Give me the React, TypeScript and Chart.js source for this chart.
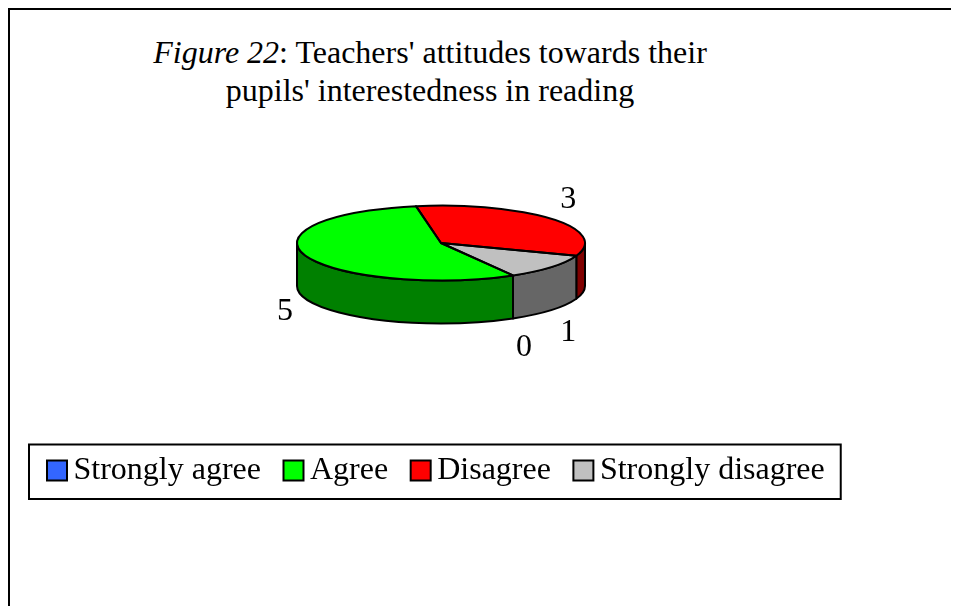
import React, { useEffect, useRef } from 'react';
import { Chart, registerables } from 'chart.js';

Chart.register(...registerables);

// ---- data ----
const categories = ['Strongly agree', 'Agree', 'Disagree', 'Strongly disagree'];
const responses = [0, 5, 3, 1];

// ---- styles ----
const topColors = ['#3366FF', '#00FF00', '#FF0000', '#C0C0C0'];
const sideColors = ['#1A3380', '#008000', '#800000', '#666666'];
const titleItalic = 'Figure 22';
const titleRest = ": Teachers' attitudes towards their";
const titleLine2 = "pupils' interestedness in reading";

const FONT = '"Liberation Serif", "Times New Roman", serif';
const TILT = 0.26;
const DEPTH = 43;

const pie3d = {
  id: 'pie3d',
  beforeDatasetsDraw(chart: any) {
    const ctx = chart.ctx;
    const meta = chart.getDatasetMeta(0);
    const first = meta.data[0];
    if (!first) return;
    const { x: cx, y: cy, outerRadius: r } = first.getProps(['x', 'y', 'outerRadius'], true);
    const ry = r * TILT;
    ctx.save();
    meta.data.forEach((arc: any, i: number) => {
      const { startAngle: s, endAngle: e } = arc.getProps(['startAngle', 'endAngle'], true);
      if (e - s <= 0) return;
      for (let n = -2; n <= 2; n++) {
        const lo = Math.max(s, 2 * Math.PI * n);
        const hi = Math.min(e, 2 * Math.PI * n + Math.PI);
        if (hi - lo > 1e-6) {
          ctx.beginPath();
          ctx.ellipse(cx, cy, r, ry, 0, lo, hi, false);
          ctx.lineTo(cx + r * Math.cos(hi), cy + ry * Math.sin(hi) + DEPTH);
          ctx.ellipse(cx, cy + DEPTH, r, ry, 0, hi, lo, true);
          ctx.closePath();
          ctx.fillStyle = sideColors[i];
          ctx.fill();
          ctx.lineWidth = 2;
          ctx.lineJoin = 'round';
          ctx.strokeStyle = '#000';
          ctx.stroke();
        }
      }
    });
    ctx.restore();
    ctx.save();
    ctx.translate(cx, cy);
    ctx.scale(1, TILT);
    ctx.translate(-cx, -cy);
  },
  afterDatasetsDraw(chart: any) {
    const ctx = chart.ctx;
    ctx.restore();
    const meta = chart.getDatasetMeta(0);
    const first = meta.data[0];
    if (!first) return;
    const { x: cx, y: cy, outerRadius: r } = first.getProps(['x', 'y', 'outerRadius'], true);
    const ry = r * TILT;
    ctx.save();
    ctx.lineWidth = 2;
    ctx.lineJoin = 'round';
    ctx.strokeStyle = '#000';
    meta.data.forEach((arc: any) => {
      const { startAngle: s, endAngle: e } = arc.getProps(['startAngle', 'endAngle'], true);
      if (e - s <= 0) return;
      ctx.beginPath();
      ctx.moveTo(cx, cy);
      ctx.lineTo(cx + r * Math.cos(s), cy + ry * Math.sin(s));
      ctx.ellipse(cx, cy, r, ry, 0, s, e, false);
      ctx.closePath();
      ctx.stroke();
    });
    // value labels
    const values = chart.data.datasets[0].data;
    ctx.fillStyle = '#000';
    ctx.font = `32px ${FONT}`;
    ctx.textAlign = 'center';
    ctx.textBaseline = 'middle';
    meta.data.forEach((arc: any, i: number) => {
      const { startAngle: s, endAngle: e } = arc.getProps(['startAngle', 'endAngle'], true);
      const m = (s + e) / 2;
      const sn = Math.sin(m);
      const x = cx + (r + 22) * Math.cos(m);
      const y = cy + (ry + 30) * sn + (sn > 0 ? DEPTH + 3 : 0);
      ctx.fillText(String(values[i]), x, y);
    });
    ctx.restore();
  },
  afterDraw(chart: any) {
    const lg = chart.legend;
    if (!lg || !lg.legendHitBoxes || !lg.legendHitBoxes.length) return;
    const hb = lg.legendHitBoxes;
    const firstHb = hb[0];
    const lastHb = hb[hb.length - 1];
    const ctx = chart.ctx;
    const left = firstHb.left - 9.5 - 18;
    const right = lastHb.left + lastHb.width + 16;
    const midY = firstHb.top + firstHb.height / 2;
    const top = midY - 26;
    const bottom = midY + 28.5;
    ctx.save();
    ctx.lineWidth = 2;
    ctx.strokeStyle = '#000';
    ctx.strokeRect(left, top, right - left, bottom - top);
    ctx.restore();
  },
};

export default function App() {
  const ref = useRef<HTMLCanvasElement | null>(null);

  useEffect(() => {
    if (!ref.current) return;
    Chart.defaults.font.family = FONT;
    const chart = new Chart(ref.current, {
      type: 'pie',
      data: {
        labels: categories,
        datasets: [
          {
            data: responses,
            backgroundColor: topColors,
            borderColor: '#000',
            borderWidth: 0,
            rotation: 150,
            radius: 144,
          } as any,
        ],
      },
      options: {
        responsive: false,
        animation: false,
        events: [],
        rotation: 150,
        radius: 144,
        layout: { padding: { left: 14.5, right: 101.5, top: 53.5, bottom: 109.5 } },
        plugins: {
          title: { display: false },
          tooltip: { enabled: false },
          legend: {
            display: true,
            position: 'bottom',
            align: 'start',
            labels: {
              color: '#000',
              font: { family: FONT, size: 32 },
              usePointStyle: true,
              pointStyle: 'rect',
              boxWidth: 1,
              boxHeight: 20,
              padding: 32,
              generateLabels: (c: any) => {
                const base = (Chart as any).overrides.doughnut.plugins.legend.labels.generateLabels(c);
                return base.map((it: any) => ({ ...it, strokeStyle: '#000', lineWidth: 2, pointStyle: 'rect' }));
              },
            },
          },
        },
      } as any,
      plugins: [pie3d],
    });
    return () => chart.destroy();
  }, []);

  return (
    <div
      style={{
        position: 'relative',
        width: 951,
        height: 598,
        boxSizing: 'border-box',
        borderTop: '2px solid #000',
        borderLeft: '2px solid #000',
        overflow: 'hidden',
        background: '#fff',
      }}
    >
      <div
        style={{
          position: 'absolute',
          left: 0,
          top: 23,
          width: 840,
          textAlign: 'center',
          fontFamily: FONT,
          fontSize: 32,
          lineHeight: '38px',
          color: '#000',
          whiteSpace: 'nowrap',
        }}
      >
        <i>{titleItalic}</i>
        {titleRest}
        <br />
        {titleLine2}
      </div>
      <canvas ref={ref} width={949} height={596} style={{ position: 'absolute', left: 0, top: 0 }} />
    </div>
  );
}
